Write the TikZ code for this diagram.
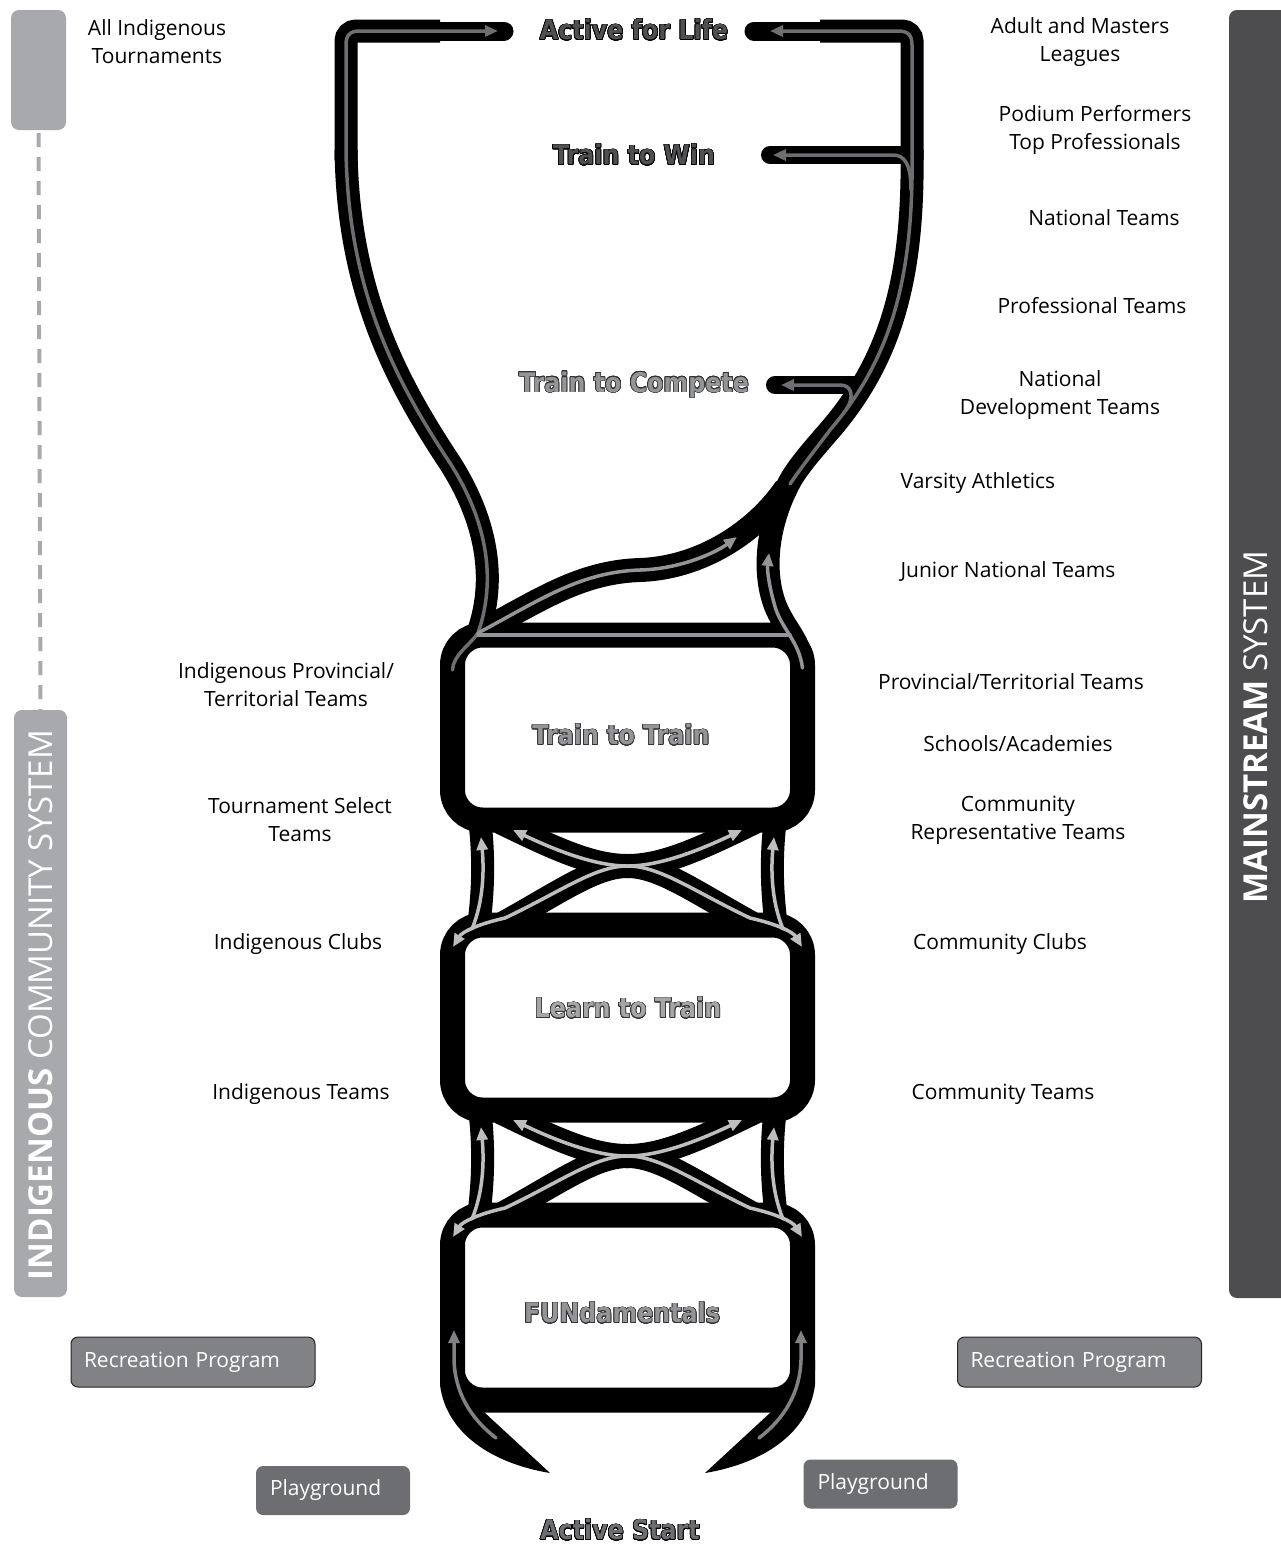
\documentclass[tikz,border=0pt]{standalone}
\usepackage{fontspec}
\setmainfont{Open Sans}
\newfontfamily\stagefont[FakeStretch=0.88]{DejaVu Sans}
\usepackage{contour}
\contourlength{0.7pt}
\contournumber{24}
\usetikzlibrary{arrows.meta}
\definecolor{barA}{HTML}{A7A9AC}
\definecolor{barB}{HTML}{4D4D4F}
\definecolor{recfill}{HTML}{808285}
\definecolor{playfill}{HTML}{6D6E71}
\definecolor{grayTop}{HTML}{6D6E71}
\definecolor{grayMid}{HTML}{939598}
\definecolor{grayX}{HTML}{BCBEC0}
\definecolor{grayLow}{HTML}{808285}
\definecolor{stDark}{HTML}{505052}
\definecolor{stMid}{HTML}{939598}
\definecolor{stLight}{HTML}{A4A6A8}
\definecolor{stStart}{HTML}{6D6E71}
\begin{document}
\begin{tikzpicture}[x=1pt,y=-1pt,
  blk/.style={draw=black, line width=23pt, line cap=butt},
  branch/.style={draw=black, line width=18pt, line cap=round},
  gl/.style={line width=3.5pt, line cap=round},
  tip/.style={-{Triangle[length=13pt,width=11pt]}},
  both/.style={{Triangle[length=13pt,width=11pt]}-{Triangle[length=13pt,width=11pt]}},
  lbl/.style={font=\fontsize{21}{28}\selectfont, align=center, text=black, inner sep=0pt},
  stage/.style={font=\stagefont\bfseries\fontsize{27}{30}\selectfont, inner sep=0pt},
  sidebar/.style={rounded corners=8pt, inner sep=0pt},
  recbox/.style={draw=black!85, line width=1pt, fill=recfill, rounded corners=7pt, text=white,
    font=\fontsize{21}{26}\selectfont, inner xsep=13pt, inner ysep=0pt, text width=218pt,
    minimum height=50pt, align=left},
  playbox/.style={fill=playfill, rounded corners=7pt, text=white,
    font=\fontsize{21}{26}\selectfont, inner xsep=14pt, inner ysep=0pt, text width=126pt,
    minimum height=49pt, align=left},
  sidetxt/.style={rotate=90, text=white, font=\fontsize{33}{36}\selectfont, inner sep=0pt}
]
\useasboundingbox (0,0) rectangle (1281,1545);

% ---------- side bars ----------
\node[sidebar, fill=barA, minimum width=55pt, minimum height=120pt] (indtop) at (38.5,70) {};
\node[sidebar, fill=barA, minimum width=53pt, minimum height=587pt] (indbot) at (40.5,1003.5) {};
\draw[barA, line width=4pt, dash pattern=on 14pt off 10pt] (indtop.south) ++(0,3) -- (indbot.north);
\node[sidetxt] (indtxt) at (41,1005) {\textbf{INDIGENOUS} COMMUNITY SYSTEM};
\node[sidebar, fill=barB, minimum width=66pt, minimum height=1288pt] (mainbar) at (1262,654) {};
\node[sidetxt] (mstxt) at (1256,727) {\textbf{MAINSTREAM} SYSTEM};

% ---------- upper black structure ----------
\draw[black, line width=19pt, line cap=round] (504,31) -- (350,31);
\draw[black, line width=19pt, line cap=round] (754,31) -- (905,31);
\draw[black, line width=23pt, rounded corners=10pt] (440,31) -- (346,31) -- (346,160);
\draw[black, line width=23pt, rounded corners=10pt] (820,31) -- (912,31) -- (912,160);
\draw[blk] (346,150) .. controls (348,290) and (395,380) .. (450,463)
  .. controls (480,510) and (500,570) .. (478,633);
\draw[blk] (912,150) .. controls (914,280) and (890,360) .. (830,430)
  .. controls (810,453) and (795,470) .. (787,487)
  .. controls (768,525) and (762,570) .. (775,605)
  .. controls (785,630) and (800,640) .. (802.5,665);
\draw[blk, line width=24pt] (478,633) .. controls (540,600) and (580,572) .. (640,570)
  .. controls (700,568) and (755,533) .. (786,488);
\draw[branch] (770,155) -- (908,155);
\draw[branch] (775,385) -- (858,385);

% ---------- boxes ----------
\foreach \k in {0,1,2}{
  \draw[black, line width=25pt, rounded corners=30pt] (452.5,635+290*\k) rectangle (802.5,820+290*\k);
}
% ---------- crossings ----------
\foreach \k in {0,1}{
\begin{scope}[shift={(0,290*\k)}]
  \draw[blk] (479,815) .. controls (484,850) and (484,890) .. (478,930);
  \draw[blk] (776,815) .. controls (771,850) and (771,890) .. (777,930);
  \draw[blk, line width=24pt] (500,925) .. controls (560,892) and (595,866) .. (627.5,866)
     .. controls (660,866) and (694,852) .. (755,822);
  \draw[blk, line width=24pt] (755,925) .. controls (695,892) and (660,866) .. (627.5,866)
     .. controls (595,866) and (561,852) .. (500,822);
\end{scope}
}
% ---------- horns ----------
\fill[black] (440,1360) -- (440,1385) .. controls (446,1432) and (490,1463) .. (550,1473)
  -- (484,1412) -- (452,1400) -- (452,1360) -- cycle;
\fill[black] (815,1360) -- (815,1385) .. controls (809,1432) and (765,1463) .. (705,1473)
  -- (771,1412) -- (803,1400) -- (803,1360) -- cycle;

% ---------- gray guide lines ----------
\draw[gl, grayTop, tip] (452.5,670) .. controls (453,655) and (470,645) .. (478,633)
  .. controls (500,570) and (480,510) .. (450,463)
  .. controls (395,380) and (348,290) .. (346,150) -- (346,45)
  .. controls (346,35) and (350,31) .. (360,31) -- (498,31);
\draw[gl, grayMid] (478,635) -- (790,635);
\draw[gl, grayMid, tip] (478,633) .. controls (540,600) and (580,572) .. (640,570)
  .. controls (680,569) and (715,553) .. (737,537);
\draw[gl, grayMid, tip] (802.5,668) .. controls (799,640) and (780,628) .. (774,603)
  .. controls (769,585) and (767,570) .. (769,553);
\draw[gl, grayTop, tip] (790,484) .. controls (803,465) and (815,450) .. (830,430)
  .. controls (890,360) and (914,280) .. (912,150) -- (912,45)
  .. controls (912,35) and (908,31) .. (898,31) -- (770,31);
\draw[gl, grayTop, tip] (911,190) .. controls (911,165) and (905,155) .. (893,155) -- (773,155);
\draw[gl, grayTop, tip] (846,410) .. controls (854,398) and (853,385) .. (840,385) -- (781,385);
\foreach \k in {0,1}{
\begin{scope}[shift={(0,290*\k)}]
  \draw[gl, grayX, both] (453,947) .. controls (462,932) and (478,924) .. (505,918)
     .. controls (560,892) and (595,866) .. (627.5,866)
     .. controls (660,866) and (700,850) .. (742,830);
  \draw[gl, grayX, both] (802,947) .. controls (793,932) and (777,924) .. (750,918)
     .. controls (695,892) and (660,866) .. (627.5,866)
     .. controls (595,866) and (555,850) .. (513,830);
  \draw[gl, grayX, tip] (472,929) .. controls (484,900) and (484,868) .. (481,837);
  \draw[gl, grayX, tip] (783,929) .. controls (771,900) and (771,868) .. (774,837);
\end{scope}
}
\draw[gl, grayLow, tip] (496,1438) .. controls (470,1418) and (455,1392) .. (454,1360) -- (454,1330);
\draw[gl, grayLow, tip] (759,1438) .. controls (785,1418) and (800,1392) .. (801,1360) -- (801,1330);

% ---------- stage labels ----------
\node[stage, text=stDark] (afl) at (634,30) {\contour{black}{Active for Life}};
\node[stage, text=stDark] (t2w) at (634,155) {\contour{black}{Train to Win}};
\node[stage, text=stMid] (t2c) at (634,385) {\contour{black!80}{Train to Compete}};
\node[stage, text=stMid] (t2t) at (621,735) {\contour{black!80}{Train to Train}};
\node[stage, text=stLight] (l2t) at (628,1008) {\contour{black!80}{Learn to Train}};
\node[stage, text=stMid] (fun) at (622,1313) {\contour{black!80}{FUNdamentals}};
\node[stage, text=stStart] (ast) at (620,1530) {\contour{black}{Active Start}};

% ---------- side labels ----------
\node[lbl] (l1) at (157,42) {All Indigenous\\Tournaments};
\node[lbl] (r1) at (1080,42) {Adult and Masters\\Leagues};
\node[lbl] (r2) at (1095,130) {Podium Performers\\Top Professionals};
\node[lbl] (r3) at (1104,218) {National Teams};
\node[lbl] (r4) at (1092,306) {Professional Teams};
\node[lbl] (r5) at (1060,395) {National\\Development Teams};
\node[lbl] (r6) at (978,483) {Varsity Athletics};
\node[lbl] (r7) at (1008,571) {Junior National Teams};
\node[lbl] (l2) at (286,685) {Indigenous Provincial/\\Territorial Teams};
\node[lbl] (r8) at (1011,682) {Provincial/Territorial Teams};
\node[lbl] (r9) at (1018,744) {Schools/Academies};
\node[lbl] (l3) at (300,820) {Tournament Select\\Teams};
\node[lbl] (r10) at (1018,820) {Community\\Representative Teams};
\node[lbl] (l4) at (298,944) {Indigenous Clubs};
\node[lbl] (r11) at (1000,944) {Community Clubs};
\node[lbl] (l5) at (301,1094) {Indigenous Teams};
\node[lbl] (r12) at (1003,1094) {Community Teams};

% ---------- program boxes ----------
\node[recbox] (rec1) at (193,1362) {Recreation Program};
\node[recbox] (rec2) at (1079.5,1362) {Recreation Program};
\node[playbox] (pl1) at (333,1490.5) {Playground};
\node[playbox] (pl2) at (880.5,1484) {Playground};
\end{tikzpicture}
\end{document}
